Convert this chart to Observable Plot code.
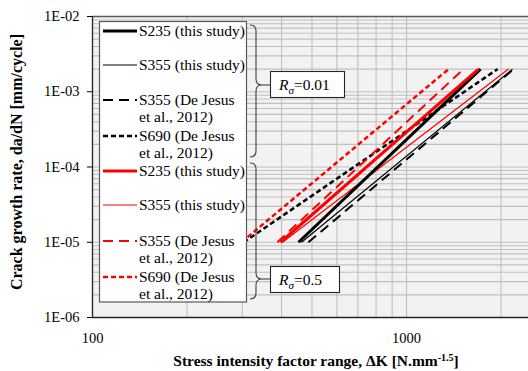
<!DOCTYPE html>
<html><head><meta charset="utf-8">
<script src="https://cdn.jsdelivr.net/npm/d3@7"></script>
<script src="https://cdn.jsdelivr.net/npm/@observablehq/plot@0.6"></script>
<style>body{margin:0;background:#fff;} #chart svg{display:block;}</style>
</head><body><div id="chart"></div>
<script>
// ---- data ----
const seriesNames = ["S235 (this study)", "S355 (this study)", "S355 (De Jesus et al., 2012)", "S690 (De Jesus et al., 2012)",
                     "S235 (this study)", "S355 (this study)", "S355 (De Jesus et al., 2012)", "S690 (De Jesus et al., 2012)"];
const legendLines = [["S235 (this study)"], ["S355 (this study)"], ["S355 (De Jesus", "et al., 2012)"], ["S690 (De Jesus", "et al., 2012)"],
                     ["S235 (this study)"], ["S355 (this study)"], ["S355 (De Jesus", "et al., 2012)"], ["S690 (De Jesus", "et al., 2012)"]];
const stressRatio = [0.01, 0.01, 0.01, 0.01, 0.5, 0.5, 0.5, 0.5];
const deltaKStart = [453, 463, 487, 303, 397, 403, 388, 298];
const deltaKEnd   = [1721, 2176, 2193, 1949, 1695, 2113, 1519, 1361];
const rateStart   = [1e-5, 1e-5, 1e-5, 1e-5, 1e-5, 1e-5, 1e-5, 1e-5];
const rateEnd     = [2e-3, 2e-3, 2e-3, 2e-3, 2e-3, 2e-3, 2e-3, 2e-3];
const ratioLabels = ["0.01", "0.5"];
const yTickValues = [1e-6, 1e-5, 1e-4, 1e-3, 1e-2];
const yTickLabels = ["1E-06", "1E-05", "1E-04", "1E-03", "1E-02"];
const xTickValues = [100, 1000];
const xTickLabels = ["100", "1000"];
const xDomain = [100, 2446];
const yDomain = [1e-6, 1e-2];

// ---- styles ----
const styleFor = [
  {stroke: "#000", width: 3, dash: null},
  {stroke: "#000", width: 1.2, dash: null},
  {stroke: "#000", width: 2, dash: "10,6"},
  {stroke: "#000", width: 2.5, dash: "5,3"},
  {stroke: "#ff0000", width: 3, dash: null},
  {stroke: "#ff0000", width: 1.2, dash: null},
  {stroke: "#ff0000", width: 2, dash: "10,6"},
  {stroke: "#ff0000", width: 2.5, dash: "5,3"}
];

const rows = seriesNames.map((name, i) => [
  {i, name, R: stressRatio[i], dK: deltaKStart[i], rate: rateStart[i]},
  {i, name, R: stressRatio[i], dK: deltaKEnd[i], rate: rateEnd[i]}
]);

const xGrid = d3.scaleLog().domain(xDomain).ticks();
const yGrid = d3.scaleLog().domain(yDomain).ticks();

const drawOrder = [3, 2, 1, 7, 6, 5, 0, 4];
const lineMarks = drawOrder.map(i => Plot.line(rows[i], {
  x: "dK", y: "rate", stroke: styleFor[i].stroke, strokeWidth: styleFor[i].width,
  strokeDasharray: styleFor[i].dash || undefined, strokeLinecap: "butt"
}));

const fontFam = "'Liberation Serif', 'Times New Roman', serif";
const svg = Plot.plot({
  width: 528, height: 371,
  marginLeft: 92, marginRight: 0, marginTop: 16, marginBottom: 54,
  style: {fontFamily: fontFam, fontSize: "14.5px", background: "white", color: "black"},
  x: {type: "log", domain: xDomain, ticks: xTickValues, tickFormat: d => xTickLabels[xTickValues.indexOf(d)] ?? "",
      tickSize: 0, tickPadding: 15, label: null},
  y: {type: "log", domain: yDomain, ticks: yTickValues, tickFormat: d => yTickLabels[yTickValues.indexOf(d)] ?? "",
      tickSize: 5, tickPadding: 8, label: null},
  marks: [
    Plot.frame({fill: "#f2f2f2", stroke: null}),
    Plot.ruleX(xGrid, {stroke: "#c0c0c0", strokeWidth: 1.1}),
    Plot.ruleY(yGrid, {stroke: "#c0c0c0", strokeWidth: 1.1}),
    ...lineMarks,
    Plot.ruleY([yDomain[1]], {stroke: "#595959", strokeWidth: 1.3}),
    Plot.ruleY([yDomain[0]], {stroke: "#262626", strokeWidth: 1.3}),
    Plot.ruleX([xDomain[0]], {stroke: "#262626", strokeWidth: 1.3})
  ]
});
document.getElementById("chart").appendChild(svg);

// ---- annotations: titles, legend, braces ----
const root = d3.select(svg);
root.selectAll("g[aria-label='y-axis'] text, g[aria-label='x-axis'] text").attr("fill", "black");

const ann = root.append("g").attr("font-family", fontFam).attr("fill", "black").attr("text-anchor", "start");

// axis titles
const xt = ann.append("text").attr("x", 316).attr("y", 366).attr("text-anchor", "middle")
  .attr("font-weight", "bold").attr("font-size", 15.5);
xt.append("tspan").text("Stress intensity factor range, ");
xt.append("tspan").text("\u0394K [N.mm");
xt.append("tspan").attr("font-size", 10).attr("dy", -5).text("-1.5");
xt.append("tspan").attr("dy", 5).text("]");

ann.append("text").attr("transform", "translate(22,162) rotate(-90)").attr("text-anchor", "middle")
  .attr("font-weight", "bold").attr("font-size", 16).text("Crack growth rate, da/dN [mm/cycle]");

// legend box
ann.append("rect").attr("x", 99.5).attr("y", 21.5).attr("width", 147).attr("height", 280.5)
  .attr("fill", "white").attr("stroke", "#595959").attr("stroke-width", 1.2);
const sampleY = [31, 65, 100, 136, 171, 205, 241, 277];
seriesNames.forEach((name, i) => {
  const st = styleFor[i];
  ann.append("line").attr("x1", 103).attr("x2", 137).attr("y1", sampleY[i]).attr("y2", sampleY[i])
    .attr("stroke", st.stroke).attr("stroke-width", st.width).attr("stroke-dasharray", st.dash);
  const t = ann.append("text").attr("x", 139).attr("y", sampleY[i] + 5).attr("font-size", 15.5).attr("text-anchor", "start");
  legendLines[i].forEach((ln, k) => t.append("tspan").attr("x", 139).attr("dy", k === 0 ? 0 : 17).text(ln));
});

// braces and labels
function brace(y1, y2, ym) {
  const x0 = 250, xm = 256, xt = 262;
  ann.append("path")
    .attr("d", `M${x0},${y1} Q${xm},${y1} ${xm},${y1 + 6} L${xm},${ym - 6} Q${xm},${ym} ${xt},${ym} Q${xm},${ym} ${xm},${ym + 6} L${xm},${y2 - 6} Q${xm},${y2} ${x0},${y2}`)
    .attr("fill", "none").attr("stroke", "#404040").attr("stroke-width", 1.1);
  ann.append("line").attr("x1", xt).attr("x2", 270).attr("y1", ym).attr("y2", ym)
    .attr("stroke", "#404040").attr("stroke-width", 1.1);
}
function rBox(y, w, label) {
  ann.append("rect").attr("x", 270.5).attr("y", y + 0.5).attr("width", w).attr("height", 26)
    .attr("fill", "white").attr("stroke", "#262626").attr("stroke-width", 1.1);
  const t = ann.append("text").attr("x", 279).attr("y", y + 19).attr("font-size", 15.5).attr("text-anchor", "start");
  t.append("tspan").attr("font-style", "italic").text("R");
  t.append("tspan").attr("font-style", "italic").attr("font-size", 11).attr("dy", 4).text("\u03c3");
  t.append("tspan").attr("dy", -4).text("=" + label);
}
brace(25, 157, 85);
brace(163, 299, 279);
rBox(71, 74, ratioLabels[0]);
rBox(266, 69, ratioLabels[1]);
</script>
</body></html>
